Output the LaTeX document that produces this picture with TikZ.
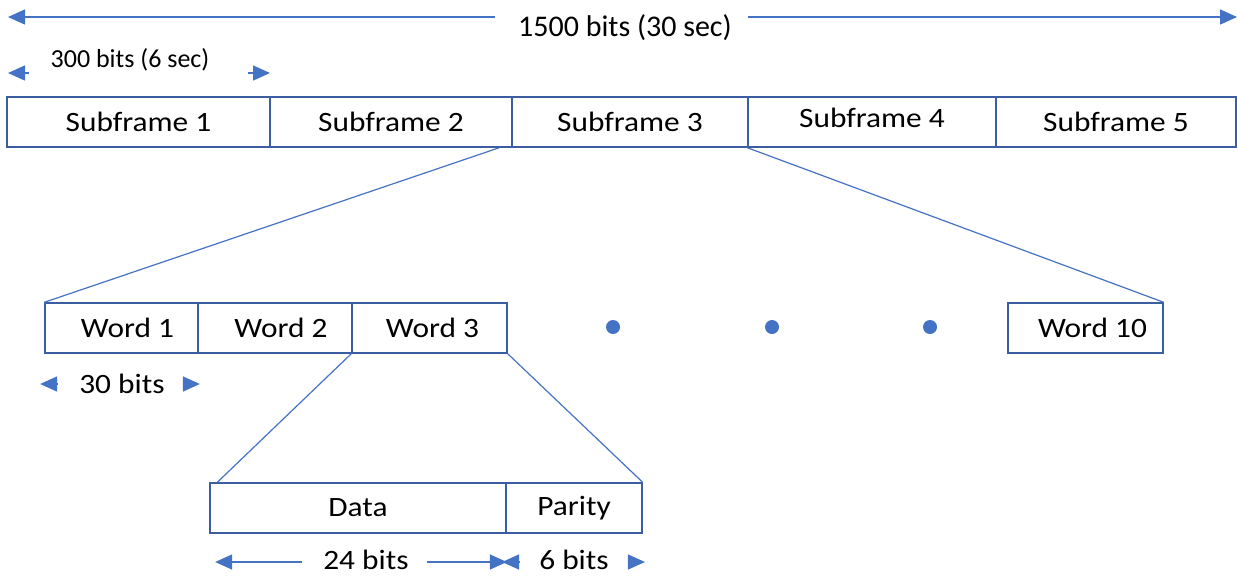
\documentclass[tikz,border=0pt]{standalone}
\usepackage{fontspec}
\setmainfont{Carlito}[FakeStretch=1.12]
\newfontfamily\narrowfont{Carlito}
\usetikzlibrary{arrows.meta}
\definecolor{boxc}{HTML}{3B5EA0}
\definecolor{linec}{HTML}{4472C4}
\begin{document}
\begin{tikzpicture}[x=1pt,y=-1pt,
  cell/.style={draw=boxc, line width=1.4pt, minimum height=50pt, inner sep=0pt,
    font=\fontsize{28}{32}\selectfont, text=black},
  lbl/.style={inner sep=0pt, font=\fontsize{28}{32}\selectfont, text=black},
  toplbl/.style={inner sep=0pt, text=black},
  arr/.style={draw=linec, line width=1.5pt, -{Triangle[length=17pt,width=15pt]}},
  expline/.style={draw=linec, line width=1.2pt},
  dotn/.style={circle, fill=linec, inner sep=0pt, minimum size=14pt}]
\useasboundingbox (0,0) rectangle (1237,576);

% top dimension
\node[toplbl, font=\narrowfont\fontsize{30}{34}\selectfont] (t1500) at (625,28) {1500 bits (30 sec)};
\coordinate (tl) at (8,17);
\coordinate (tr) at (1237,17);
\coordinate (tls) at (495,17);
\coordinate (trs) at (748,17);
\draw[arr] (tls) -- (tl);
\draw[arr] (trs) -- (tr);

% 300 bits
\node[toplbl, font=\narrowfont\fontsize{26}{30}\selectfont] (l300) at (130,60) {300 bits (6 sec)};
\coordinate (a300a) at (29,73);
\coordinate (a300b) at (8,73);
\coordinate (a300c) at (248,73);
\coordinate (a300d) at (270,73);
\draw[arr] (a300a) -- (a300b);
\draw[arr] (a300c) -- (a300d);

% subframes
\node[cell, minimum width=263pt] (s1) at (138.5,122) {Subframe 1};
\node[cell, minimum width=242pt] (s2) at (391,122) {Subframe 2};
\node[cell, minimum width=236pt] (s3) at (630,122) {Subframe 3};
\node[cell, minimum width=248pt] (s4) at (872,122) {\raisebox{9pt}{Subframe 4}};
\node[cell, minimum width=240pt] (s5) at (1116,122) {Subframe 5};

% words
\node[cell, minimum width=153pt] (w1) at (121.5,328) {\hspace{12pt}Word 1};
\node[cell, minimum width=154pt] (w2) at (275,328) {\hspace{12pt}Word 2};
\node[cell, minimum width=155pt] (w3) at (429.5,328) {\hspace{6pt}Word 3};
\node[cell, minimum width=155pt] (w10) at (1085.5,328) {\hspace{14pt}Word 10};

\node[dotn] (d1) at (613,327) {};
\node[dotn] (d2) at (772,327) {};
\node[dotn] (d3) at (930,327) {};

\draw[expline] ([xshift=-12pt]s3.south west) -- (w1.north west);
\draw[expline] (s4.south west) -- (w10.north east);

% 30 bits
\node[lbl] (l30) at (122,384) {30 bits};
\draw[arr] ([xshift=-22pt]l30.west) -- ([xshift=-39pt]l30.west);
\draw[arr] ([xshift=19pt]l30.east) -- ([xshift=35pt]l30.east);

% data / parity
\node[cell, minimum width=296pt] (data) at (358,508) {Data};
\node[cell, minimum width=136pt] (par) at (574,508) {Parity};

\draw[expline] (w3.south west) -- ([xshift=8pt]data.north west);
\draw[expline] (w3.south east) -- (par.north east);

% 24 / 6 bits
\node[lbl] (l24) at (366,560) {24 bits};
\node[lbl] (l6) at (574,560) {6 bits};
\draw[arr] ([xshift=-21pt,yshift=-2pt]l24.west) -- ([xshift=-108pt,yshift=-2pt]l24.west);
\draw[arr] ([xshift=18pt,yshift=-2pt]l24.east) -- ([xshift=98pt,yshift=-2pt]l24.east);
\draw[arr] ([xshift=-19pt,yshift=-2pt]l6.west) -- ([xshift=-37pt,yshift=-2pt]l6.west);
\draw[arr] ([xshift=20pt,yshift=-2pt]l6.east) -- ([xshift=36pt,yshift=-2pt]l6.east);
\end{tikzpicture}
\end{document}
